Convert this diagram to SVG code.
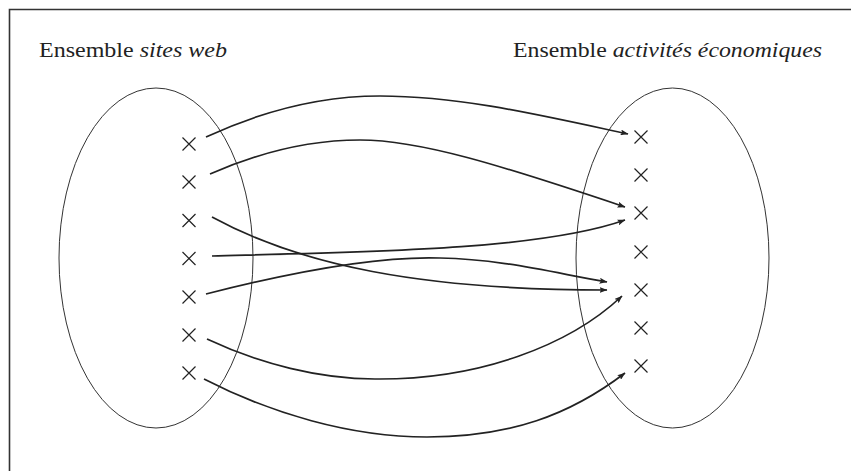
<svg xmlns="http://www.w3.org/2000/svg" width="851" height="471" viewBox="0 0 851 471">
<style>
.frame{fill:none;stroke:#333;stroke-width:1.6}
.set{fill:none;stroke:#333;stroke-width:1}
.x{stroke:#222;stroke-width:1.2;fill:none}
.lbl{font-family:'Liberation Serif',serif;font-size:21.5px;fill:#222}
.arr{fill:none;stroke:#222;stroke-width:1.7;marker-end:url(#ah)}
</style>
<defs>
<marker id="ah" viewBox="0 0 8 6" refX="7.5" refY="3" markerWidth="8" markerHeight="6" markerUnits="userSpaceOnUse" orient="auto">
<path d="M0,0 L8,3 L0,6 L1.5,3 z" fill="#222"/>
</marker>
<path id="cx" d="M-6.5,-6.5 L6.5,6.5 M-6.5,6.5 L6.5,-6.5"/>
</defs>
<rect width="851" height="471" fill="#fff"/>
<path class="frame" d="M9.5,471 V9.5 H851"/>

<g id="set-sites">
<text class="lbl" x="39" y="56.5" textLength="188" lengthAdjust="spacingAndGlyphs">Ensemble <tspan font-style="italic">sites web</tspan></text>
<ellipse class="set" cx="156" cy="258" rx="97" ry="170"/>
<g class="x">
<use href="#cx" x="189" y="144"/>
<use href="#cx" x="189" y="182"/>
<use href="#cx" x="189" y="220.5"/>
<use href="#cx" x="189" y="258.5"/>
<use href="#cx" x="189" y="297"/>
<use href="#cx" x="189" y="335"/>
<use href="#cx" x="189" y="373"/>
</g>
</g>

<g id="set-activites">
<text class="lbl" x="513" y="56.5" textLength="309" lengthAdjust="spacingAndGlyphs">Ensemble <tspan font-style="italic">activités économiques</tspan></text>
<ellipse class="set" cx="672.5" cy="258" rx="96.5" ry="170"/>
<g class="x">
<use href="#cx" x="641" y="137"/>
<use href="#cx" x="641" y="175"/>
<use href="#cx" x="641" y="213"/>
<use href="#cx" x="641" y="252"/>
<use href="#cx" x="641" y="290"/>
<use href="#cx" x="641" y="328"/>
<use href="#cx" x="641" y="366"/>
</g>
</g>

<g id="connectors">
<path class="arr" d="M206,137 C260,112 320,96 380,96 C460,96 540,115 628,134"/>
<path class="arr" d="M210,174 C260,152 310,140 360,140 C420,140 500,165 625,207"/>
<path class="arr" d="M212,217 C300,265 420,290 607,290"/>
<path class="arr" d="M212,256 C370,252 540,250 625,220"/>
<path class="arr" d="M206,294 C300,270 380,256 440,258 C500,259 550,272 607,282"/>
<path class="arr" d="M207,339 C260,364 320,379 375,379 C480,380 570,345 622,296"/>
<path class="arr" d="M204,379 C270,413 350,437 427,437 C510,437 570,415 625,373"/>
</g>
</svg>
